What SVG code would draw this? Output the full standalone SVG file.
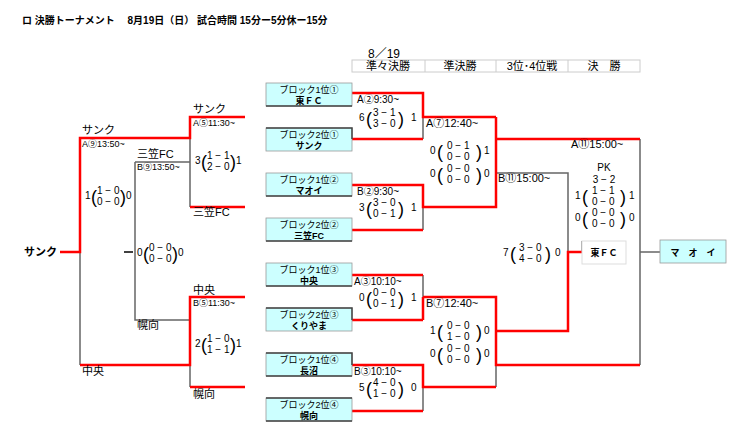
<svg xmlns="http://www.w3.org/2000/svg" width="750" height="448" viewBox="0 0 750 448">
<style>
text{font-family:"Liberation Sans","Noto Sans CJK JP",sans-serif;fill:#000}
.r{stroke:#f00;stroke-width:2.5;fill:none}
.g{stroke:#666;stroke-width:1.5;fill:none}
.box{fill:#ccffff;stroke:#999;stroke-width:0.8}
.bb{stroke:#444;stroke-width:1.5;fill:none}
.t1{font-size:9px}
.t2{font-size:9px;font-weight:bold}
.lb{font-size:11px}
.ql{font-size:10px}
.sm{font-size:9px}
.sc{font-size:10px}
.p{font-size:18px;font-weight:200}
</style>
<rect width="750" height="448" fill="#fff"/>
<text x="22" y="24" font-size="10" font-weight="bold">ロ 決勝トーナメント　 8月19日（日） 試合時間  15分ー5分休ー15分</text>
<g id="header">
<text x="368" y="58" font-size="12">8／19</text>
<rect x="352" y="60" width="288" height="12" fill="none" stroke="#ccc"/>
<path d="M425 60V72M496 60V72M568 60V72" stroke="#ccc"/>
<text x="388" y="70" class="lb" text-anchor="middle">準々決勝</text>
<text x="460" y="70" class="lb" text-anchor="middle">準決勝</text>
<text x="532" y="70" class="lb" text-anchor="middle">3位･4位戦</text>
<text x="604" y="70" class="lb" text-anchor="middle">決　勝</text>
</g>
<g id="connectors">
<path class="g" d="M423 117V139M423 207V230M423 275V320M423 387V411M496 365V387M496 173H568V252M640 139V365M640 252H660M190 117V207M135 162H190M135 162V320H190M80 252V365M190 365V387"/>
<path d="M582 241V252" stroke="#444" stroke-width="1.2"/>
<path d="M124 252H133" stroke="#000" stroke-width="1.5"/>
<path class="r" d="M352 93H423V117H496M352 139H423M423 117V93M496 117V139H640M352 185H423V207H496V139M352 230H423M352 275H423M352 320H423M423 297H496V365H640M423 297V320M352 365H423V387H496M352 411H423M496 331H568V252H582M60 252H80V138H190V117H245M190 207H245M80 365H190V297H245M190 387H245"/>
</g>
<g id="n1"><rect class="box" x="266" y="83" width="86" height="23"/><path class="bb" d="M266 106H352"/><text x="309" y="93" class="t1" text-anchor="middle">ブロック1位①</text><text x="309" y="104" class="t2" text-anchor="middle">東ＦＣ</text></g>
<g id="n2"><rect class="box" x="266" y="128" width="86" height="23"/><path class="bb" d="M266 128H352V139"/><text x="309" y="138" class="t1" text-anchor="middle">ブロック2位①</text><text x="309" y="149" class="t2" text-anchor="middle">サンク</text></g>
<g id="n3"><rect class="box" x="266" y="173" width="86" height="23"/><path class="bb" d="M266 196H352"/><text x="309" y="183" class="t1" text-anchor="middle">ブロック1位②</text><text x="309" y="194" class="t2" text-anchor="middle">マオイ</text></g>
<g id="n4"><rect class="box" x="266" y="218" width="86" height="23"/><path class="bb" d="M266 241H352"/><text x="309" y="228" class="t1" text-anchor="middle">ブロック2位②</text><text x="309" y="239" class="t2" text-anchor="middle">三笠FC</text></g>
<g id="n5"><rect class="box" x="266" y="263" width="86" height="23"/><path class="bb" d="M266 286H352"/><text x="309" y="273" class="t1" text-anchor="middle">ブロック1位③</text><text x="309" y="284" class="t2" text-anchor="middle">中央</text></g>
<g id="n6"><rect class="box" x="266" y="308" width="86" height="23"/><path class="bb" d="M266 308H352V320"/><text x="309" y="318" class="t1" text-anchor="middle">ブロック2位③</text><text x="309" y="329" class="t2" text-anchor="middle">くりやま</text></g>
<g id="n7"><rect class="box" x="266" y="353" width="86" height="23"/><path class="bb" d="M266 353H352V365M266 376H352"/><text x="309" y="363" class="t1" text-anchor="middle">ブロック1位④</text><text x="309" y="374" class="t2" text-anchor="middle">長沼</text></g>
<g id="n8"><rect class="box" x="266" y="398" width="86" height="23"/><path class="bb" d="M266 398H352M266 421H352"/><text x="309" y="408" class="t1" text-anchor="middle">ブロック2位④</text><text x="309" y="419" class="t2" text-anchor="middle">幌向</text></g>
<g id="third"><rect x="582" y="241" width="44" height="23" fill="#fff" stroke="#ddd"/><text x="604" y="256" class="t2" font-size="10" text-anchor="middle">東ＦＣ</text></g>
<g id="champ"><rect class="box" x="660" y="240" width="66" height="23"/><text x="693" y="256" class="t2" font-size="10" text-anchor="middle">マ　オ　イ</text></g>
<g id="labels">
<text x="24" y="256" font-size="11" font-weight="bold">サンク</text>
<text x="82" y="134" class="lb">サンク</text><text x="82" y="147" class="sm">A⑨13:50~</text>
<text x="82" y="375" class="lb">中央</text>
<text x="137" y="158" class="lb">三笠FC</text><text x="137" y="170" class="sm">B⑨13:50~</text>
<text x="137" y="329" class="lb">幌向</text>
<text x="193" y="113" class="lb">サンク</text><text x="193" y="126" class="sm">A⑤11:30~</text>
<text x="193" y="216" class="lb">三笠FC</text>
<text x="193" y="294" class="lb">中央</text><text x="193" y="306" class="sm">B⑤11:30~</text>
<text x="193" y="398" class="lb">幌向</text>
<text x="357" y="103" class="ql">A②9:30~</text>
<text x="357" y="195" class="ql">B②9:30~</text>
<text x="354" y="285" class="ql">A③10:10~</text>
<text x="354" y="375" class="ql">B③10:10~</text>
<text x="426" y="127" class="lb">A⑦12:40~</text>
<text x="426" y="307" class="lb">B⑦12:40~</text>
<text x="498" y="182" class="lb">B⑪15:00~</text>
<text x="571" y="148" class="lb">A⑪15:00~</text>
<text x="604" y="171" class="sc" text-anchor="middle">PK</text>
<text x="604" y="183" class="sc" text-anchor="middle">3 − 2</text>
</g>
<g id="scores" class="sc">
<text x="85" y="199">1</text><text x="91" y="203" class="p">(</text><text x="97" y="194">1 − 0</text><text x="97" y="205">0 − 0</text><text x="120" y="203" class="p">)</text><text x="126" y="199">0</text>
<text x="137" y="256">0</text><text x="143" y="260" class="p">(</text><text x="149" y="251">0 − 0</text><text x="149" y="262">0 − 0</text><text x="172" y="260" class="p">)</text><text x="178" y="256">0</text>
<text x="195" y="164">3</text><text x="201" y="168" class="p">(</text><text x="207" y="159">1 − 1</text><text x="207" y="170">2 − 0</text><text x="230" y="168" class="p">)</text><text x="236" y="164">1</text>
<text x="195" y="347">2</text><text x="201" y="351" class="p">(</text><text x="207" y="342">1 − 0</text><text x="207" y="353">1 − 1</text><text x="230" y="351" class="p">)</text><text x="236" y="347">1</text>
<text x="359" y="121">6</text><text x="366" y="125" class="p">(</text><text x="373" y="116">3 − 1</text><text x="373" y="127">3 − 0</text><text x="398" y="125" class="p">)</text><text x="411" y="121">1</text>
<text x="359" y="211">3</text><text x="366" y="215" class="p">(</text><text x="373" y="206">3 − 0</text><text x="373" y="217">0 − 1</text><text x="398" y="215" class="p">)</text><text x="411" y="211">1</text>
<text x="359" y="301">0</text><text x="366" y="305" class="p">(</text><text x="373" y="296">0 − 0</text><text x="373" y="307">0 − 1</text><text x="398" y="305" class="p">)</text><text x="411" y="301">1</text>
<text x="359" y="391">5</text><text x="366" y="395" class="p">(</text><text x="373" y="386">4 − 0</text><text x="373" y="397">1 − 0</text><text x="398" y="395" class="p">)</text><text x="411" y="391">0</text>
<text x="430" y="154">0</text><text x="437" y="158" class="p">(</text><text x="447" y="149">0 − 1</text><text x="447" y="160">0 − 0</text><text x="476" y="158" class="p">)</text><text x="484" y="154">1</text>
<text x="430" y="177">0</text><text x="437" y="181" class="p">(</text><text x="447" y="172">0 − 0</text><text x="447" y="183">0 − 0</text><text x="476" y="181" class="p">)</text><text x="484" y="177">0</text>
<text x="430" y="334">1</text><text x="437" y="338" class="p">(</text><text x="447" y="329">0 − 0</text><text x="447" y="340">1 − 0</text><text x="476" y="338" class="p">)</text><text x="484" y="334">0</text>
<text x="430" y="357">0</text><text x="437" y="361" class="p">(</text><text x="447" y="352">0 − 0</text><text x="447" y="363">0 − 0</text><text x="476" y="361" class="p">)</text><text x="484" y="357">0</text>
<text x="503" y="256">7</text><text x="510" y="260" class="p">(</text><text x="519" y="251">3 − 0</text><text x="519" y="262">4 − 0</text><text x="545" y="260" class="p">)</text><text x="555" y="256">0</text>
<text x="575" y="199">1</text><text x="582" y="203" class="p">(</text><text x="592" y="194">1 − 1</text><text x="592" y="205">0 − 0</text><text x="620" y="203" class="p">)</text><text x="629" y="199">1</text>
<text x="575" y="221">0</text><text x="582" y="225" class="p">(</text><text x="592" y="216">0 − 0</text><text x="592" y="227">0 − 0</text><text x="620" y="225" class="p">)</text><text x="629" y="221">0</text>
</g>
</svg>
